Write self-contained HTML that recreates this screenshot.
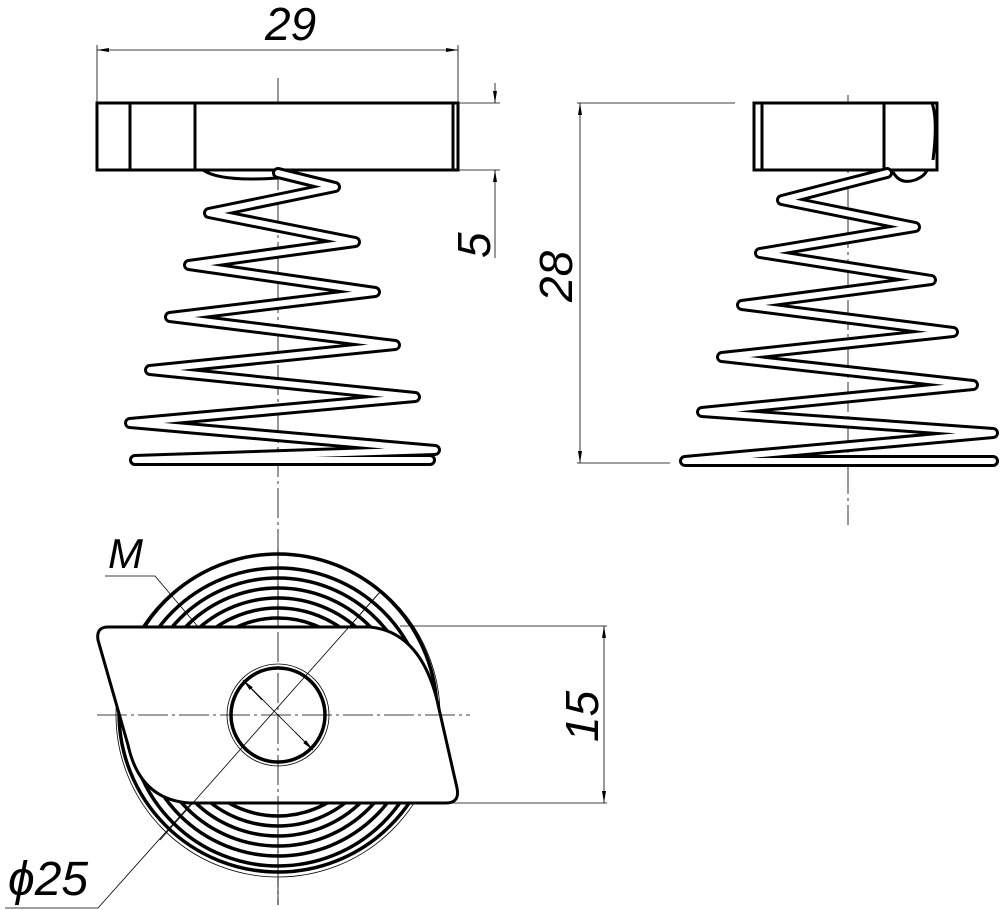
<!DOCTYPE html>
<html><head><meta charset="utf-8"><style>
html,body{margin:0;padding:0;background:#fff}
svg{display:block}
text{font-family:"Liberation Sans",sans-serif;font-style:italic;fill:#000}
</style></head><body>
<svg width="1000" height="910" viewBox="0 0 1000 910" xmlns="http://www.w3.org/2000/svg">
<defs>
<marker id="a" viewBox="0 0 12 4" refX="12" refY="2" markerWidth="12" markerHeight="4" orient="auto" markerUnits="userSpaceOnUse"><path d="M0,0 L12,2 L0,4 Z" fill="#000"/></marker>
</defs>
<g fill="none" stroke="#000">
<g stroke-width="0.8" stroke-dasharray="30,4,3,4">
<line x1="278" y1="78" x2="278" y2="905"/>
<line x1="848" y1="95" x2="848" y2="525"/>
</g>
<g stroke-width="0.8">
<line x1="97" y1="45" x2="97" y2="103"/>
<line x1="458" y1="45" x2="458" y2="103"/>
<line x1="278" y1="50" x2="458" y2="50" marker-end="url(#a)"/>
<line x1="278" y1="50" x2="97" y2="50" marker-end="url(#a)"/>
<line x1="458" y1="103" x2="500" y2="103"/>
<line x1="458" y1="170" x2="500" y2="170"/>
<line x1="495" y1="83" x2="495" y2="103" marker-end="url(#a)"/>
<line x1="495" y1="258" x2="495" y2="170" marker-end="url(#a)"/>
<line x1="577" y1="103" x2="735" y2="103"/>
<line x1="577" y1="463" x2="670" y2="463"/>
<line x1="580" y1="300" x2="580" y2="103" marker-end="url(#a)"/>
<line x1="580" y1="300" x2="580" y2="463" marker-end="url(#a)"/>
<line x1="400" y1="626" x2="607" y2="626"/>
<line x1="440" y1="803" x2="607" y2="803"/>
<line x1="604" y1="715" x2="604" y2="626" marker-end="url(#a)"/>
<line x1="604" y1="715" x2="604" y2="803" marker-end="url(#a)"/>
<polyline points="105,576 155,576 243,680"/>
<polyline points="5,908 98,908 380,592"/>
</g>
<g stroke-width="3">
<rect x="97" y="103" width="361" height="67" fill="#fff"/>
<line x1="130" y1="103" x2="130" y2="170"/>
<line x1="195" y1="103" x2="195" y2="170"/>
<line x1="453" y1="103" x2="453" y2="170"/>
<path d="M203,170 Q220,182 278,178"/>
</g>
<g stroke-width="3">
<rect x="754" y="103" width="183" height="67" fill="#fff"/>
<line x1="762" y1="103" x2="762" y2="170"/>
<line x1="884" y1="103" x2="884" y2="170"/>
<path d="M932,103 Q938,120 933,160"/>
<path d="M893,172 Q900,185 915,180 Q925,176 927,170"/>
</g>
<g stroke-linejoin="round" stroke-linecap="round">
<polyline stroke-width="12" points="278,173 335,187 209,213 355,242 189,265 375,292 170,317 395,345 150,370 415,397 130,423 435,450 135,460 430,460"/>
<polyline stroke="#fff" stroke-width="6" points="278,173 335,187 209,213 355,242 189,265 375,292 170,317 395,345 150,370 415,397 130,423 435,450 135,460 430,460"/>
<polyline stroke-width="12" points="887,173 782,200 915,227 760,253 931,280 742,305 953,332 722,357 973,385 702,412 993,433 685,461 993,461"/>
<polyline stroke="#fff" stroke-width="6" points="887,173 782,200 915,227 760,253 931,280 742,305 953,332 722,357 973,385 702,412 993,433 685,461 993,461"/>
</g>
<g stroke-width="3.5">
<circle cx="278" cy="713" r="159"/>
<circle cx="278" cy="717" r="149"/>
<circle cx="278" cy="717" r="139"/>
<circle cx="278" cy="717" r="129"/>
<circle cx="278" cy="717" r="119"/>
<circle cx="278" cy="717" r="109"/>
<circle cx="278" cy="717" r="99"/>
</g>
<circle cx="278" cy="715" r="162" stroke-width="0.8"/>
<path d="M108,627 L370,627 Q420,632 437,700 L457,788 Q460,803 446,803 L190,803 Q140,800 128,745 L98,640 Q96,627 108,627 Z" fill="#fff" stroke-width="3"/>
<g stroke-width="0.8" stroke-dasharray="30,4,3,4">
<line x1="97" y1="715" x2="470" y2="715"/>
<line x1="278" y1="550" x2="278" y2="905"/>
</g>
<g stroke-width="0.8">
<line x1="243" y1="680" x2="313" y2="750"/>
<line x1="262" y1="700" x2="243" y2="680" marker-end="url(#a)"/>
<line x1="295" y1="732" x2="313" y2="750" marker-end="url(#a)"/>
<line x1="160" y1="840" x2="380" y2="592"/>
</g>
<circle cx="278" cy="715" r="47" stroke-width="3.5"/>
<circle cx="278" cy="715" r="51" stroke-width="0.8"/>
</g>
<text x="265" y="40" font-size="46">29</text>
<text transform="translate(490,258) rotate(-90)" font-size="46">5</text>
<text transform="translate(572,302) rotate(-90)" font-size="46">28</text>
<text transform="translate(598,742) rotate(-90)" font-size="46">15</text>
<text x="108" y="568" font-size="42">M</text>
<text x="8" y="895" font-size="48">ϕ25</text>
</svg>
</body></html>
